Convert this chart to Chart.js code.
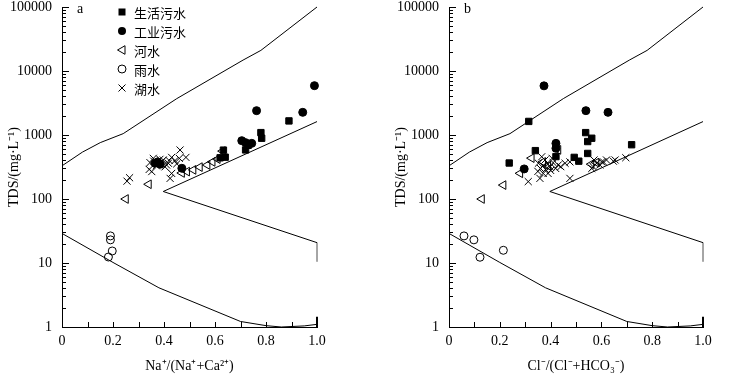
<!DOCTYPE html>
<html><head><meta charset="utf-8">
<script src="https://cdn.jsdelivr.net/npm/chart.js"></script>
<style>
html,body{margin:0;padding:0;background:#fff;}
#wrap{position:relative;width:736px;height:379px;overflow:hidden;background:#fff;}
.pane{position:absolute;top:0;width:368px;height:379px;}
</style></head><body>
<div id="wrap">
<div class="pane" style="left:0"><canvas id="ca" width="368" height="379"></canvas></div>
<div class="pane" style="left:368px"><canvas id="cb" width="368" height="379"></canvas></div>
</div>
<script>
// ---- tick labels / names ----
const xTicks = [0, 0.2, 0.4, 0.6, 0.8, 1.0];
const yTicks = [1, 10, 100, 1000, 10000, 100000];
const seriesNames = ['生活污水', '工业污水', '河水', '雨水', '湖水'];

// ---- Gibbs boundary lines (x, TDS) ----
const gibbsUpper = [[0,330],[0.08,540],[0.15,760],[0.24,1050],[0.45,3700],[0.71,14800],[0.78,21000],[1,100000]];
const gibbsLower = [[0,29],[0.2,10.2],[0.38,4.1],[0.7,1.22],[0.8,1.05],[0.86,1.0],[0.95,1.04],[1,1.1]];
const gibbsWedge = [[1,1620],[0.397,131],[1,20.8]];
const gibbsEndThin = [[1,20.8],[1,10.5]];
const gibbsEndThick = [[1,1],[1,1.45]];

// ---- panel a: Na+/(Na+ + Ca2+) ----
const aSewage = [[0.62,440],[0.633,580],[0.64,450],[0.72,585],[0.73,690],[0.78,1090],[0.783,890],[0.89,1660]];
const aIndustrial = [[0.365,362],[0.375,380],[0.385,350],[0.47,302],[0.705,815],[0.72,760],[0.744,740],[0.763,2400],[0.944,2260],[0.99,5900]];
const aRiver = [[0.25,100],[0.34,170],[0.47,255],[0.49,268],[0.515,285],[0.54,315],[0.57,340],[0.59,380],[0.61,420],[0.63,560]];
const aRain = [[0.19,26.5],[0.19,23],[0.197,15.4],[0.182,12.4]];
const aLake = [[0.255,190],[0.265,215],[0.463,583],[0.486,447],[0.46,432],[0.443,398],[0.43,447],[0.417,362],[0.397,407],[0.384,417],[0.374,354],[0.358,432],[0.345,370],[0.342,290],[0.352,268],[0.404,318],[0.43,251],[0.424,210],[0.45,354],[0.37,330],[0.39,380],[0.41,340],[0.42,400],[0.36,390]];

// ---- panel b: Cl-/(Cl- + HCO3-) ----
const bSewage = [[0.314,1630],[0.538,1090],[0.562,890],[0.546,790],[0.719,705],[0.34,570],[0.546,515],[0.493,447],[0.511,390],[0.237,365],[0.421,460]];
const bIndustrial = [[0.374,5860],[0.539,2400],[0.626,2260],[0.421,740],[0.421,620],[0.296,295]];
const bRiver = [[0.129,100],[0.214,165],[0.28,252],[0.325,435],[0.43,585],[0.37,380],[0.39,330],[0.56,350],[0.58,370]];
const bRain = [[0.059,26.5],[0.098,23],[0.122,12.3],[0.214,15.8]];
const bLake = [[0.312,187],[0.358,210],[0.371,251],[0.352,362],[0.378,407],[0.398,318],[0.406,432],[0.43,340],[0.457,362],[0.476,380],[0.476,210],[0.39,251],[0.365,457],[0.36,300],[0.37,330],[0.38,290],[0.39,350],[0.40,280],[0.41,370],[0.42,300],[0.35,270],[0.44,320],[0.568,318],[0.581,362],[0.601,380],[0.62,407],[0.654,407],[0.571,407],[0.594,340],[0.647,390],[0.696,442],[0.608,380],[0.562,300]];

const SERIF = '"Liberation Serif", "Times New Roman", serif';
const CJK = '"Noto Sans CJK SC", sans-serif';

function pts(arr){ return arr.map(p => ({x:p[0], y:p[1]})); }

function lineDs(arr, width, color){
  return {type:'scatter', data: pts(arr), showLine:true, pointRadius:0, borderColor: color || '#000',
          borderWidth: width || 1, fill:false, tension:0, clip:false};
}

const markerStyles = [
  {pointStyle:'rect', pointRadius:4.5, backgroundColor:'#000', borderColor:'#000', borderWidth:1, pointRotation:0},
  {pointStyle:'circle', pointRadius:4, backgroundColor:'#000', borderColor:'#000', borderWidth:1, pointRotation:0},
  {pointStyle:'triangle', pointRadius:5, backgroundColor:'rgba(255,255,255,0)', borderColor:'#000', borderWidth:1, pointRotation:-90},
  {pointStyle:'circle', pointRadius:4, backgroundColor:'rgba(255,255,255,0)', borderColor:'#000', borderWidth:1, pointRotation:0},
  {pointStyle:'crossRot', pointRadius:5, backgroundColor:'#000', borderColor:'#000', borderWidth:1, pointRotation:0}
];

function pointDs(arr, i){
  const s = markerStyles[i];
  return {type:'scatter', label: seriesNames[i], data: pts(arr), showLine:false, clip:false,
          pointStyle:s.pointStyle, pointRadius:s.pointRadius, pointRotation:s.pointRotation,
          backgroundColor:s.backgroundColor, borderColor:s.borderColor, borderWidth:s.borderWidth,
          pointBackgroundColor:s.backgroundColor, pointBorderColor:s.borderColor, pointBorderWidth:s.borderWidth};
}

const decoPlugin = {
  id:'deco',
  afterDraw(chart, args, opts){
    const ctx = chart.ctx, x = chart.scales.x, y = chart.scales.y;
    ctx.save();
    ctx.strokeStyle = '#000'; ctx.lineWidth = 1;
    ctx.beginPath();
    for (let i = 0; i <= 10; i++){
      const px = Math.round(x.getPixelForValue(i/10)) + 0.5;
      ctx.moveTo(px, y.bottom); ctx.lineTo(px, y.bottom - 5);
    }
    for (let d = 1; d <= 100000; d *= 10){
      for (let m = 1; m <= 9; m++){
        const v = d*m; if (v > 100000) break;
        const py = Math.round(y.getPixelForValue(v)) + 0.5;
        ctx.moveTo(x.left, py); ctx.lineTo(x.left + (m === 1 ? 7 : 4), py);
      }
    }
    ctx.stroke();
    // panel letter
    ctx.fillStyle = '#000';
    ctx.font = '14px ' + SERIF;
    ctx.textBaseline = 'middle'; ctx.textAlign = 'left';
    ctx.fillText(opts.letter, x.left + 15, 9);
    // legend
    if (opts.legend){
      const mx = x.left + 60, tx = x.left + 72;
      const rows = [12, 31, 50, 69, 88];
      ctx.font = '13px ' + CJK;
      for (let i = 0; i < 5; i++){
        const cy = rows[i];
        ctx.beginPath();
        ctx.lineWidth = 1; ctx.strokeStyle = '#000'; ctx.fillStyle = '#000';
        if (i === 0){ ctx.fillRect(mx-3.5, cy-3.5, 7, 7); }
        else if (i === 1){ ctx.arc(mx, cy, 4, 0, Math.PI*2); ctx.fill(); }
        else if (i === 2){ ctx.moveTo(mx-4.5, cy); ctx.lineTo(mx+3, cy-4.3); ctx.lineTo(mx+3, cy+4.3); ctx.closePath(); ctx.stroke(); }
        else if (i === 3){ ctx.arc(mx, cy, 4, 0, Math.PI*2); ctx.stroke(); }
        else { ctx.moveTo(mx-3.5, cy-3.5); ctx.lineTo(mx+3.5, cy+3.5); ctx.moveTo(mx+3.5, cy-3.5); ctx.lineTo(mx-3.5, cy+3.5); ctx.stroke(); }
        ctx.fillStyle = '#000';
        ctx.fillText(seriesNames[i], tx, cy + 1);
      }
    }
    ctx.restore();
  }
};

function makeChart(id, series, xTitle, letter, legend, yWidth, padRight, yTitlePad){
  const datasets = [
    pointDs(series[0], 0), pointDs(series[1], 1), pointDs(series[2], 2), pointDs(series[3], 3), pointDs(series[4], 4),
    lineDs(gibbsUpper), lineDs(gibbsLower), lineDs(gibbsWedge), lineDs(gibbsEndThin, 1, '#999'), lineDs(gibbsEndThick, 2)
  ];
  return new Chart(document.getElementById(id), {
    type:'scatter',
    data:{datasets},
    options:{
      responsive:false, animation:false, events:[],
      layout:{padding:{left:0, right:padRight, top:7, bottom:0}},
      plugins:{legend:{display:false}, tooltip:{enabled:false}, deco:{letter, legend}},
      scales:{
        x:{type:'linear', min:0, max:1,
           afterBuildTicks(s){ s.ticks = xTicks.map(v => ({value:v})); },
           afterFit(s){ s.height = 52; s.paddingLeft = 0; s.paddingRight = 0; },
           grid:{display:false, drawTicks:false},
           border:{display:true, color:'#000', width:1},
           ticks:{color:'#000', font:{family:SERIF, size:14}, padding:6, maxRotation:0,
                  callback:(v) => v === 0 ? '0' : Number(v).toFixed(1)},
           title:{display:true, text:xTitle, color:'#000', font:{family:SERIF, size:14}, padding:{top:4, bottom:4}}
        },
        y:{type:'logarithmic', min:1, max:100000,
           afterBuildTicks(s){ s.ticks = yTicks.map(v => ({value:v})); },
           afterFit(s){ s.width = yWidth; s.paddingTop = 0; s.paddingBottom = 0; },
           grid:{display:false, drawTicks:false},
           border:{display:true, color:'#000', width:1},
           ticks:{color:'#000', font:{family:SERIF, size:14}, padding:10, callback:(v) => String(v)},
           title:{display:true, text:'TDS/(mg·L⁻¹)', color:'#000', font:{family:SERIF, size:14}, padding:{top:yTitlePad, bottom:yTitlePad}}
        }
      }
    },
    plugins:[decoPlugin]
  });
}

makeChart('ca', [aSewage, aIndustrial, aRiver, aRain, aLake], 'Na⁺/(Na⁺+Ca²⁺)', 'a', true, 62, 51, 6);
makeChart('cb', [bSewage, bIndustrial, bRiver, bRain, bLake], 'Cl⁻/(Cl⁻+HCO₃⁻)', 'b', false, 81, 33, 25);
</script>
</body></html>
